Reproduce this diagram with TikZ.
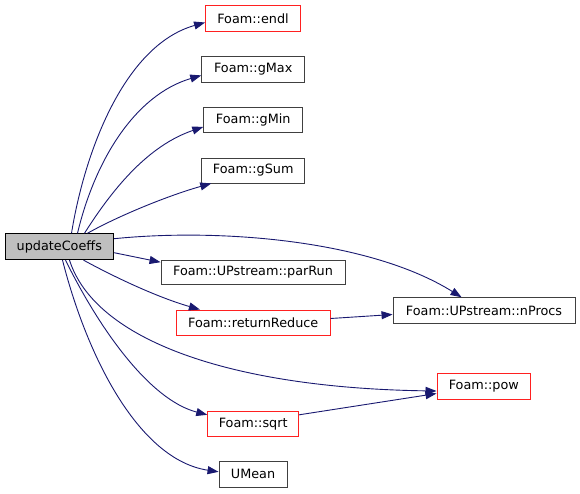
\documentclass[tikz,border=0pt]{standalone}
\usepackage{fontspec}
\setmainfont{DejaVu Sans}
\usetikzlibrary{arrows.meta}
\definecolor{edgeblue}{HTML}{191970}
\definecolor{boxgray}{HTML}{BFBFBF}
\definecolor{boxedge}{HTML}{404040}
\definecolor{boxred}{HTML}{FF2020}
\tikzset{
  fn/.style={draw=boxedge, line width=0.9pt, fill=white, inner sep=0pt, font=\fontsize{12.8}{15}\selectfont, text=black},
  fnred/.style={fn, draw=boxred},
  fncur/.style={fn, draw=black, fill=boxgray},
  call/.style={draw=edgeblue, line width=0.9pt, -{Triangle[length=11pt,width=8pt]}, fill=none},
}
\begin{document}
\begin{tikzpicture}[x=1pt,y=-1pt]
\useasboundingbox (0,0) rectangle (580,493);
\node[fncur, minimum width=108.7pt, minimum height=26pt] (uc) at (59.3,246.7) {updateCoeffs};
\node[fnred, minimum width=95pt, minimum height=25.6pt] (endl) at (253,18.5) {Foam::endl};
\node[fn, minimum width=103pt, minimum height=25.3pt] (gmax) at (253.2,69.4) {Foam::gMax};
\node[fn, minimum width=99pt, minimum height=25.7pt] (gmin) at (253.2,119.9) {Foam::gMin};
\node[fn, minimum width=103pt, minimum height=25pt] (gsum) at (253.2,170.5) {Foam::gSum};
\node[fn, minimum width=184pt, minimum height=24.3pt] (parrun) at (253,272.2) {Foam::UPstream::parRun};
\node[fnred, minimum width=153.7pt, minimum height=25pt] (rr) at (253.2,322.5) {Foam::returnReduce};
\node[fn, minimum width=182pt, minimum height=25.6pt] (nprocs) at (484,310.5) {Foam::UPstream::nProcs};
\node[fnred, minimum width=93.7pt, minimum height=25.6pt] (pow) at (483.8,386.5) {Foam::pow};
\node[fnred, minimum width=91pt, minimum height=25.7pt] (sqrt) at (253.2,423.8) {Foam::sqrt};
\node[fn, minimum width=68pt, minimum height=25.3pt] (umean) at (253,474.3) {UMean};

\draw[call] ([xshift=67pt]uc.north west) .. controls (85,150) and (125,45) .. ([yshift=-4pt]endl.west);
\draw[call] ([xshift=73pt]uc.north west) .. controls (95,160) and (135,95) .. ([yshift=-6pt]gmax.west);
\draw[call] ([xshift=80pt]uc.north west) .. controls (115,185) and (150,145) .. ([yshift=-7pt]gmin.west);
\draw[call] ([xshift=83pt]uc.north west) .. controls (120,215) and (170,195) .. ([xshift=10pt]gsum.south west);
\draw[call] ([yshift=8pt]uc.east) .. controls (220,228) and (370,240) .. ([xshift=69pt]nprocs.north west);
\draw[call] ([yshift=-6pt]uc.east) -- ([yshift=10pt]parrun.west);
\draw[call] ([xshift=79pt]uc.south west) .. controls (120,280) and (160,298) .. ([xshift=24pt]rr.north west);
\draw[call] ([yshift=4pt]rr.east) -- ([yshift=-4pt]nprocs.west);
\draw[call] ([xshift=65pt]uc.south west) .. controls (95,340) and (230,388) .. ([yshift=-4.5pt]pow.west);
\draw[call] ([xshift=61pt]uc.south west) .. controls (100,330) and (150,400) .. ([yshift=9pt]sqrt.west);
\draw[call] ([yshift=9pt]sqrt.east) -- ([yshift=-7pt]pow.west);
\draw[call] ([xshift=58pt]uc.south west) .. controls (88,360) and (140,460) .. ([yshift=2.5pt]umean.west);
\end{tikzpicture}
\end{document}
